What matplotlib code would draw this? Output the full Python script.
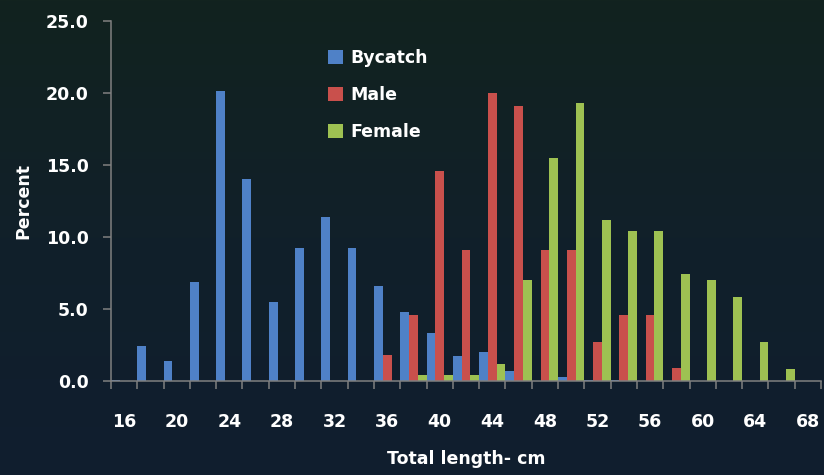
import numpy as np
import matplotlib
matplotlib.use("Agg")
import matplotlib.pyplot as plt
from matplotlib.colors import LinearSegmentedColormap
from matplotlib.ticker import FormatStrFormatter, FixedLocator
from matplotlib.patches import Patch

# Total length classes (cm)
lengths = [16, 18, 20, 22, 24, 26, 28, 30, 32, 34, 36, 38, 40, 42,
           44, 46, 48, 50, 52, 54, 56, 58, 60, 62, 64, 66, 68]

bycatch = [0.1, 2.4, 1.4, 6.9, 20.1, 14.0, 5.5, 9.2, 11.4, 9.2, 6.6, 4.8, 3.3, 1.7,
           2.0, 0.7, 0.0, 0.3, 0.1, 0.1, 0.0, 0.0, 0.0, 0.0, 0.0, 0.0, 0.0]
male = [0.0, 0.0, 0.0, 0.0, 0.0, 0.0, 0.0, 0.0, 0.0, 0.0, 1.8, 4.6, 14.6, 9.1,
        20.0, 19.1, 9.1, 9.1, 2.7, 4.6, 4.6, 0.9, 0.0, 0.0, 0.0, 0.0, 0.0]
female = [0.0, 0.0, 0.0, 0.0, 0.0, 0.0, 0.0, 0.0, 0.0, 0.0, 0.0, 0.4, 0.4, 0.4,
          1.2, 7.0, 15.5, 19.3, 11.2, 10.4, 10.4, 7.4, 7.0, 5.8, 2.7, 0.8, 0.0]

series_names = ["Bycatch", "Male", "Female"]
tick_labels = ["16", "20", "24", "28", "32", "36", "40", "44", "48", "52", "56", "60", "64", "68"]

colors = ["#4F81C7", "#C9504C", "#9EC152"]
text_color = "white"
axis_color = "#808080"
font = ["DejaVu Sans"]
fsize = 12.5

plt.rcParams["font.family"] = font
plt.rcParams["font.weight"] = "bold"

fig = plt.figure(figsize=(8.24, 4.75), dpi=100)

# dark vertical gradient backdrop
bg = fig.add_axes([0, 0, 1, 1], zorder=-10)
grad = np.linspace(0, 1, 256).reshape(-1, 1)
cmap = LinearSegmentedColormap.from_list("bg", ["#12231F", "#11202A", "#101E2F"])
bg.imshow(grad, aspect="auto", cmap=cmap, extent=[0, 1, 0, 1], origin="upper")
bg.set_axis_off()

ax = fig.add_axes([0.1347, 0.198, 0.8617, 0.758])
ax.set_facecolor("none")

x = np.array(lengths, dtype=float)
w = 2.0 / 3.0
for i, (vals, name) in enumerate(zip([bycatch, male, female], series_names)):
    ax.bar(x - w + i * w, vals, width=w, color=colors[i], linewidth=0, label=name, zorder=2)

ax.set_xlim(15, 69)
ax.set_ylim(0, 25)

# category boundary ticks, labels on every other class
ax.xaxis.set_major_locator(FixedLocator(np.arange(15, 70, 2)))
ax.xaxis.set_major_formatter(plt.NullFormatter())
ax.set_xticks([int(t) for t in tick_labels], minor=True)
ax.set_xticklabels(tick_labels, minor=True)
ax.tick_params(axis="x", which="minor", length=0, pad=23, labelsize=fsize, labelcolor=text_color)
ax.tick_params(axis="x", which="major", length=5.5, width=1.1, color=axis_color, direction="out")

ax.set_yticks(np.arange(0, 26, 5))
ax.yaxis.set_major_formatter(FormatStrFormatter("%.1f"))
ax.tick_params(axis="y", length=5.5, width=1.1, color=axis_color, direction="out",
               pad=10.5, labelsize=fsize, labelcolor=text_color)

for side in ["top", "right"]:
    ax.spines[side].set_visible(False)
for side in ["left", "bottom"]:
    ax.spines[side].set_color(axis_color)
    ax.spines[side].set_linewidth(1.1)

ax.set_ylabel("Percent", color=text_color, fontsize=fsize, fontweight="bold", labelpad=10)
ax.set_xlabel("Total length- cm", color=text_color, fontsize=fsize, fontweight="bold", labelpad=14)

handles = [Patch(facecolor=c, edgecolor="none") for c in colors]
leg = ax.legend(handles, series_names, loc="upper left", bbox_to_anchor=(0.284, 0.966),
                frameon=False, handlelength=0.85, handleheight=0.85, handletextpad=0.4,
                labelspacing=1.09, prop={"family": font, "weight": "bold", "size": fsize})
for t in leg.get_texts():
    t.set_color(text_color)

fig.savefig("out.png", dpi=100, facecolor=fig.get_facecolor())
